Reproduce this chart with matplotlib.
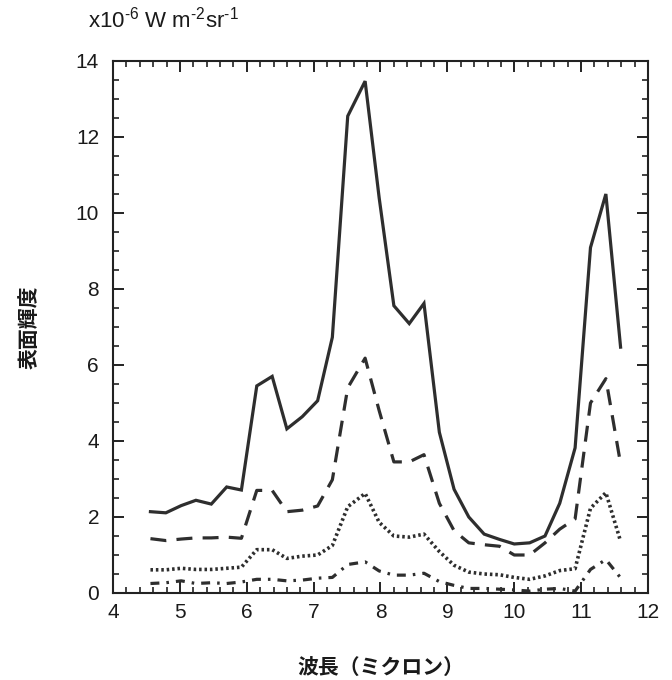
import numpy as np
import matplotlib.pyplot as plt
from matplotlib.ticker import MultipleLocator

plt.rcParams['font.family'] = ['Liberation Sans', 'Noto Sans CJK JP', 'DejaVu Sans']
plt.rcParams['mathtext.fontset'] = 'custom'
plt.rcParams['mathtext.rm'] = 'Liberation Sans'
plt.rcParams['mathtext.default'] = 'regular'

# ============================================================
# Data
# ============================================================
wavelength = [4.56, 4.79, 5.02, 5.24, 5.47, 5.70, 5.92, 6.15, 6.38, 6.60, 6.83,
              7.06, 7.28, 7.51, 7.77, 7.98, 8.20, 8.43, 8.65, 8.88, 9.10, 9.32,
              9.55, 9.78, 10.00, 10.23, 10.46, 10.68, 10.91, 11.14, 11.37, 11.59]

solid = [2.14, 2.11, 2.30, 2.44, 2.34, 2.79, 2.71, 5.45, 5.70, 4.32, 4.64,
         5.06, 6.73, 12.55, 13.47, 10.40, 7.56, 7.09, 7.62, 4.23, 2.73, 2.00,
         1.55, 1.41, 1.29, 1.32, 1.50, 2.36, 3.82, 9.09, 10.50, 6.47]

dashed = [1.43, 1.38, 1.42, 1.45, 1.45, 1.47, 1.44, 2.70, 2.70, 2.14, 2.18,
          2.29, 2.98, 5.40, 6.18, 4.80, 3.45, 3.45, 3.64, 2.36, 1.64, 1.32,
          1.27, 1.23, 1.00, 1.00, 1.32, 1.68, 1.95, 5.00, 5.64, 3.40]

dotted = [0.61, 0.61, 0.65, 0.62, 0.62, 0.65, 0.68, 1.14, 1.14, 0.91, 0.97,
          1.00, 1.25, 2.27, 2.62, 1.86, 1.50, 1.47, 1.55, 1.09, 0.73, 0.55,
          0.50, 0.48, 0.41, 0.36, 0.45, 0.59, 0.64, 2.23, 2.64, 1.36]

dashdot = [0.25, 0.27, 0.32, 0.25, 0.27, 0.25, 0.29, 0.36, 0.36, 0.32, 0.34,
           0.39, 0.41, 0.75, 0.82, 0.58, 0.47, 0.47, 0.52, 0.30, 0.20, 0.12,
           0.12, 0.10, 0.08, 0.05, 0.10, 0.12, 0.05, 0.62, 0.88, 0.40]

x_ticks = [4, 5, 6, 7, 8, 9, 10, 11, 12]
y_ticks = [0, 2, 4, 6, 8, 10, 12, 14]

# ============================================================
# Plot
# ============================================================
fig = plt.figure(figsize=(6.72, 6.80), dpi=100)
ax = fig.add_axes([113 / 672, 1 - 593 / 680, 535 / 672, 532 / 680])

col = '#2e2e2e'
ax.plot(wavelength, solid, color=col, lw=2.3, ls='-', solid_joinstyle='miter')
ax.plot(wavelength, dashed, color=col, lw=2.3, ls=(0, (5.0, 3.2)))
ax.plot(wavelength, dotted, color=col, lw=2.6, ls=(0, (0.7, 0.8)))
ax.plot(wavelength, dashdot, color=col, lw=2.3, ls=(0, (2.8, 2.2, 0.8, 2.2)))

ax.set_xlim(4, 12)
ax.set_ylim(0, 14)
ax.set_xticks(x_ticks)
ax.set_yticks(y_ticks)
ax.xaxis.set_minor_locator(MultipleLocator(0.2))
ax.yaxis.set_minor_locator(MultipleLocator(0.5))

ax.tick_params(which='both', direction='in', top=True, right=True,
               color='#222222', labelsize=15, labelcolor='#1a1a1a')
ax.tick_params(which='major', length=8, width=1.4)
ax.tick_params(which='minor', length=4, width=1.2)
ax.tick_params(axis='y', pad=10)
ax.tick_params(axis='x', pad=7)
for sp in ax.spines.values():
    sp.set_linewidth(1.5)
    sp.set_color('#222222')

ax.set_xlabel('波長（ミクロン）', fontsize=15, fontweight='bold',
              family=['Noto Sans CJK JP', 'DejaVu Sans'], labelpad=26, color='#1a1a1a')
ax.set_ylabel('表面輝度', fontsize=15, fontweight='bold',
              family=['Noto Sans CJK JP', 'DejaVu Sans'], labelpad=26, color='#1a1a1a')

fig.text(88 / 672, 1 - 20 / 680, 'x10$^{\u20106}$ W m$^{\u20102}$sr$^{\u20101}$',
         fontsize=16, ha='left', va='center', color='#1a1a1a')

fig.savefig('out.png', dpi=100, facecolor='white')
